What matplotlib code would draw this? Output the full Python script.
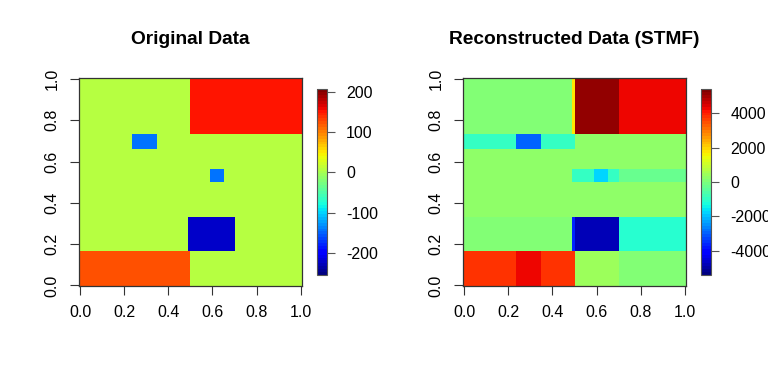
import numpy as np
import matplotlib
matplotlib.use("Agg")
import matplotlib.pyplot as plt

plt.rcParams["font.family"] = ["Liberation Sans", "DejaVu Sans"]
plt.rcParams["axes.unicode_minus"] = False

# block boundaries of the matrix (fraction of the image)
x_edges = [0.0, 0.235, 0.35, 0.49, 0.5, 0.59, 0.65, 0.7, 1.0]
y_edges = [0.0, 0.165, 0.33, 0.5, 0.565, 0.66, 0.735, 1.0]

# block values, rows from bottom to top
original = [
    [121, 121, 121, 121, 10, 10, 10, 10],
    [10, 10, 10, -220, -220, -220, -220, 10],
    [10, 10, 10, 10, 10, 10, 10, 10],
    [10, 10, 10, 10, 10, -140, 10, 10],
    [10, 10, 10, 10, 10, 10, 10, 10],
    [10, -143, 10, 10, 10, 10, 10, 10],
    [10, 10, 10, 10, 150, 150, 150, 150],
]
reconstructed = [
    [3720, 4320, 3720, 3720, 430, 430, 430, 0],
    [0, 0, 0, -3620, -4800, -4800, -4800, -1190],
    [320, 320, 320, 320, 320, 320, 320, 320],
    [320, 320, 320, -860, -860, -1840, -860, -220],
    [320, 320, 320, 320, 320, 320, 320, 320],
    [-860, -3020, -860, -860, 320, 320, 320, 320],
    [150, 150, 150, 1730, 5090, 5090, 5090, 4320],
]
orig_range = (-255, 206)
rec_range = (-5413, 5395)
orig_ticks = [-200, -100, 0, 100, 200]
rec_ticks = [-4000, -2000, 0, 2000, 4000]
titles = ["Original Data", "Reconstructed Data (STMF)"]

W, H = 768, 384
fig = plt.figure(figsize=(W / 100, H / 100), dpi=100)
cmap = plt.get_cmap("jet", 64)


def px(x0, y0, x1, y1):
    return [x0 / W, 1 - y1 / H, (x1 - x0) / W, (y1 - y0) / H]


panels = [
    (original, orig_range, orig_ticks, titles[0], px(78.5, 78.3, 302.3, 286), px(317.3, 89.3, 326.7, 275)),
    (reconstructed, rec_range, rec_ticks, titles[1], px(462.7, 78.3, 686.3, 286), px(701, 89.3, 710.7, 275)),
]

xp = np.array(x_edges)
yp = np.array(y_edges)
xp[0] -= 0.007
xp[-1] += 0.007
yp[0] -= 0.003
yp[-1] += 0.003

for z, rng, cticks, title, rect, crect in panels:
    ax = fig.add_axes(rect)
    mesh = ax.pcolormesh(xp, yp, np.array(z), cmap=cmap, vmin=rng[0], vmax=rng[1])
    ax.set_xlim(xp[0], xp[-1])
    ax.set_ylim(yp[0], yp[-1])
    ticks = [0.0, 0.2, 0.4, 0.6, 0.8, 1.0]
    ax.set_xticks(ticks)
    ax.set_yticks(ticks)
    ax.set_xticklabels(["%.1f" % t for t in ticks])
    ax.set_yticklabels(["%.1f" % t for t in ticks], rotation=90, va="center")
    ax.tick_params(length=6.8, width=0.8, pad=7, labelsize=11.5, color="#333333")
    for s in ax.spines.values():
        s.set_linewidth(0.9)
        s.set_color("#333333")
    fig.text(rect[0] + rect[2] / 2, 1 - 40 / H, title, ha="center", va="center",
             fontsize=13.8, fontweight="bold")

    cax = fig.add_axes(crect)
    cb = fig.colorbar(mesh, cax=cax, ticks=cticks)
    cb.outline.set_linewidth(0.8)
    cb.outline.set_edgecolor("#555555")
    cax.tick_params(length=6, width=0.8, pad=8, labelsize=11.5, color="#555555")

fig.savefig("out.png", dpi=100)
